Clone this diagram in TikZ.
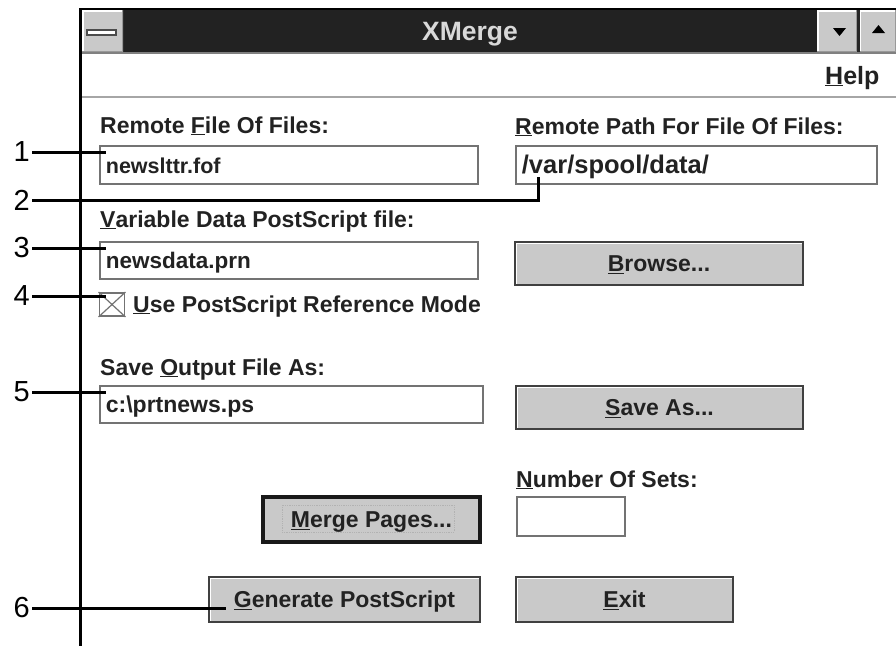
\documentclass[tikz,border=0pt]{standalone}
\usepackage{fontspec}
\setmainfont{Liberation Sans}
\newcommand\hotkey[1]{\underline{#1}}
\newcommand\dlg{\fontsize{23}{27}\selectfont\bfseries}
\newcommand\numfont{\fontsize{29}{34}\selectfont}
\definecolor{txt}{HTML}{222222}
\definecolor{titlebg}{HTML}{222222}
\definecolor{btngray}{HTML}{C9C9C9}
\tikzset{
  lbl/.style = {anchor=base west, inner sep=0, font=\dlg, text=txt},
  fld/.style = {draw=black!55, line width=1.8, fill=white, anchor=west,
    inner xsep=6, inner ysep=0, text height=16, text depth=0, align=left,
    font=\dlg, text=txt},
  bevel/.style = {path picture={
    \draw[white, line width=3] (path picture bounding box.south west)
      -- (path picture bounding box.north west) -- (path picture bounding box.north east);
    \draw[black!40, line width=3] (path picture bounding box.north east)
      -- (path picture bounding box.south east) -- (path picture bounding box.south west);}},
  btn/.style = {draw=black!75, line width=2, fill=btngray, bevel, inner sep=0,
    text height=16, text depth=0, font=\dlg, text=txt},
  sysbox/.style = {fill=btngray, bevel, inner sep=0},
  callout/.style = {anchor=east, inner xsep=2, inner ysep=0, font=\numfont},
  lead/.style = {line width=3}
}
\begin{document}
\begin{tikzpicture}[x=1pt, y=-1pt]
  \useasboundingbox (0,0) rectangle (896,646);
  % title bar and menu bar
  \fill[titlebg] (82,9) rectangle (896,52);
  \node[sysbox, minimum width=41, minimum height=42] (sysmenu) at (102.5,31) {};
  \draw[black!70, fill=white, line width=1.2] (87,30) rectangle (116,35);
  \node[sysbox, minimum width=40, minimum height=42] (down) at (837,31) {};
  \node[sysbox, minimum width=37, minimum height=42] (up) at (877.5,31) {};
  \draw[line width=2.5, black!85] (858.5,10) -- (858.5,52);
  \fill[black] (833,28) -- (846,28) -- (839.5,36) -- cycle;
  \fill[black] (872,33) -- (885,33) -- (878.5,25) -- cycle;
  \node[anchor=base west, inner sep=0, font=\fontsize{26.5}{30}\selectfont\bfseries,
    text=white!85!black] (title) at (422,40) {XMerge};
  \draw[gray, line width=2] (82,53) -- (896,53);
  \node[lbl, font=\fontsize{25}{30}\selectfont\bfseries] (help) at (825,84) {\hotkey{H}elp};
  \draw[gray!70, line width=2] (82,96.5) -- (896,96.5);
  \draw[line width=2] (79,9) -- (896,9);
  \draw[line width=3] (80.5,8) -- (80.5,646);
  % labels
  \node[lbl] (lblfof) at (100,133) {Remote \hotkey{F}ile Of Files:};
  \node[lbl] (lblpath) at (515,134) {\hotkey{R}emote Path For File Of Files:};
  \node[lbl] (lblvar) at (100,227) {\hotkey{V}ariable Data PostScript file:};
  \node[lbl] (lblref) at (133,312) {\hotkey{U}se PostScript Reference Mode};
  \node[lbl] (lblout) at (100,375) {Save \hotkey{O}utput File As:};
  \node[lbl] (lblsets) at (516,487) {\hotkey{N}umber Of Sets:};
  % text fields
  \node[fld, minimum height=38, text width=366, font=\fontsize{21.5}{26}\selectfont\bfseries]
    (fof) at (99,165) {newslttr.fof};
  \node[fld, minimum height=38, text width=349, font=\fontsize{25.5}{30}\selectfont\bfseries]
    (path) at (515,165) {/var/spool/data/};
  \node[fld, minimum height=37, text width=366, font=\fontsize{22.5}{27}\selectfont\bfseries]
    (vardata) at (99,260.5) {newsdata.prn};
  \node[fld, minimum height=37, text width=371] (outfile) at (99,404.5) {c:\textbackslash prtnews.ps};
  \node[fld, minimum height=39, text width=96] (sets) at (516,516.5) {};
  % check box
  \node[draw=black!55, line width=1.8, minimum width=25, minimum height=23, inner sep=0]
    (chk) at (112,304.5) {};
  \draw[black!55, line width=1.2] (chk.north west) -- (chk.south east)
    (chk.north east) -- (chk.south west);
  % buttons
  \node[btn, minimum width=288, minimum height=43] (browse) at (659,263.5) {\hotkey{B}rowse...};
  \node[btn, minimum width=287, minimum height=43] (saveas) at (659.5,407.5) {\hotkey{S}ave As...};
  \node[btn, line width=3.5, draw=black!90, minimum width=217, minimum height=45]
    (merge) at (371.5,519.5) {\hotkey{M}erge Pages...};
  \draw[gray!60, densely dotted, line width=0.8] (282,505) rectangle (454,532);
  \node[btn, minimum width=271, minimum height=45] (generate) at (344.5,599.5) {\hotkey{G}enerate PostScript};
  \node[btn, minimum width=217, minimum height=45] (exit) at (624.5,599.5) {\hotkey{E}xit};
  % callouts
  \node[callout] (n1) at (32,152) {1};
  \node[callout] (n2) at (32,200) {2};
  \node[callout] (n3) at (32,248) {3};
  \node[callout] (n4) at (32,296) {4};
  \node[callout] (n5) at (32,392) {5};
  \node[callout] (n6) at (32,608) {6};
  \coordinate (p1) at (106,153);
  \coordinate (p2) at (538,177);
  \coordinate (p3) at (106,248);
  \coordinate (p4) at (106,296);
  \coordinate (p5) at (106,392);
  \coordinate (p6) at (226,608);
  \draw[lead] (n1.east) -- (n1.east -| p1);
  \draw[lead] (n2.east) -- (n2.east -| p2) -- (p2);
  \draw[lead] (n3.east) -- (n3.east -| p3);
  \draw[lead] (n4.east) -- (n4.east -| p4);
  \draw[lead] (n5.east) -- (n5.east -| p5);
  \draw[lead] (n6.east) -- (n6.east -| p6);
\end{tikzpicture}
\end{document}
